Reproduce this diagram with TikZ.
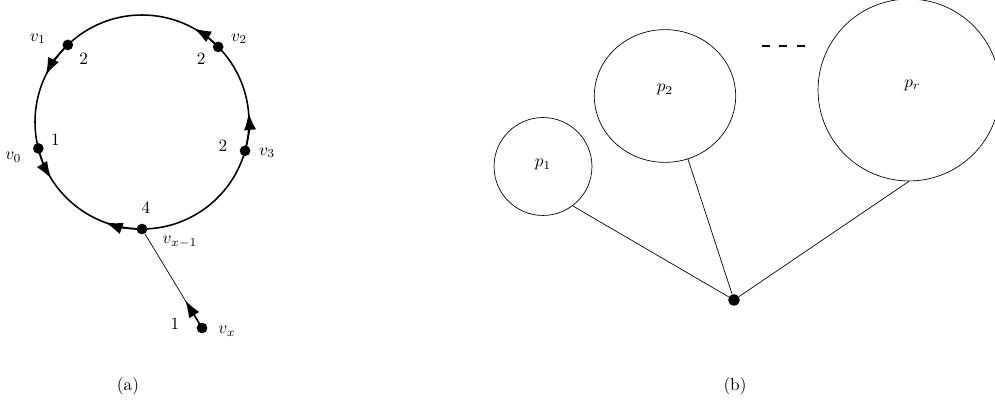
\documentclass[tikz,border=0pt]{standalone}
\usepackage{xcolor}
\usepackage{tikz}
\usetikzlibrary{calc, shapes, arrows, arrows.meta, positioning}

\begin{document}
\begin{tikzpicture}[x=0.58pt, y=0.58pt,
  dot/.style={circle, fill, inner sep=0pt, minimum size=6.2pt},
  cyc/.style={line width=0.9pt},
  pil/.style={line width=0.9pt, -{Latex[length=10pt,width=7pt]}},
  kula/.style={draw, circle, inner sep=0pt}]
\useasboundingbox (0,0) rectangle (995,-410);
\coordinate (c) at (142,-122);
\draw[cyc] (c) circle[radius=107];
\node[dot] (v1) at ([shift={(133.9:107)}]c) {};
\node[dot] (v2) at ([shift={(44.6:107)}]c) {};
\node[dot] (v0) at ([shift={(194.3:107)}]c) {};
\node[dot] (v3) at ([shift={(344.4:107)}]c) {};
\node[dot] (vx1) at ([shift={(270:107)}]c) {};
\node[dot] (vx) at (202,-328) {};
\draw (vx) -- (vx1);
\draw[pil] (v1.center) arc[start angle=133.9, end angle=154, radius=107];
\draw[pil] (v0.center) arc[start angle=194.3, end angle=212, radius=107];
\draw[pil] (vx1.center) arc[start angle=270, end angle=250, radius=107];
\draw[pil] (v3.center) arc[start angle=344.4, end angle=365, radius=107];
\draw[pil] (v2.center) arc[start angle=44.6, end angle=61, radius=107];
\draw[pil] (vx.center) -- ($(vx)!0.28!(vx1)$);
\node at ([shift={(-30,6)}]v1) {$v_1$};
\node at ([shift={(16,-14)}]v1) {2};
\node at ([shift={(-25,-9)}]v0) {$v_0$};
\node at ([shift={(17,9)}]v0) {1};
\node at ([shift={(21,8)}]v2) {$v_2$};
\node at ([shift={(-17,-12)}]v2) {2};
\node at ([shift={(22,-2)}]v3) {$v_3$};
\node at ([shift={(-22,5)}]v3) {2};
\node at ([shift={(4,21)}]vx1) {4};
\node at ([shift={(38,-13)}]vx1) {$v_{x-1}$};
\node at ([shift={(-27,4)}]vx) {1};
\node at ([shift={(25,-3)}]vx) {$v_x$};
\node (capa) at (128,-386) {(a)};

\node[kula, minimum size=56.8pt, label={[yshift=0.9pt]center:$p_1$}] (p1) at (543,-166.5) {};
\node[draw, ellipse, inner sep=0pt, minimum width=82pt, minimum height=77pt,
  label={[yshift=3.5pt]center:$p_2$}] (p2) at (665,-96) {};
\node[kula, minimum size=105.5pt, label={[yshift=2.9pt, xshift=2pt]center:$p_r$}] (pr) at (909,-90) {};
\node[dot, minimum size=6.6pt] (hub) at (734,-300) {};
\draw (p1.-53) -- (hub);
\draw (p2.-70) -- (hub);
\draw (pr.south) -- (hub);
\draw[line width=0.8pt, dash pattern=on 4.6pt off 5.5pt] (762,-46) -- (805,-46);
\node (capb) at (735,-386) {(b)};
\end{tikzpicture}
\end{document}
